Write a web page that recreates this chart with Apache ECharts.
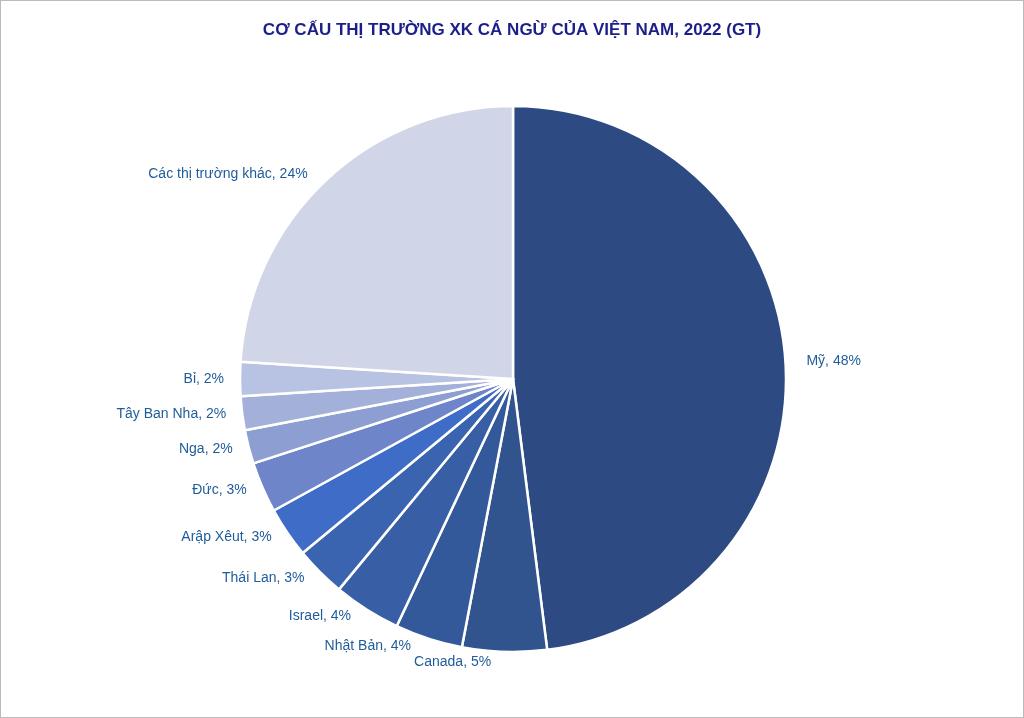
<!DOCTYPE html>
<html><head><meta charset="utf-8">
<script src="https://cdn.jsdelivr.net/npm/echarts@6/dist/echarts.min.js"></script>
<style>html,body{margin:0;padding:0;background:#fff}#c{width:1022px;height:716px;border:1px solid #bbb}</style>
</head><body><div id="c"></div>
<script>
const categories=["Mỹ","Canada","Nhật Bản","Israel","Thái Lan","Arập Xêut","Đức","Nga","Tây Ban Nha","Bỉ","Các thị trường khác"];
const values=[48,5,4,4,3,3,3,2,2,2,24];
const colors=["#2e4a82","#31548f","#34599b","#385fa6","#3a63b0","#3e6cc6","#6e86c9","#8d9ed3","#a3b0da","#b8c2e2","#d0d5e8"];
const chart=echarts.init(document.getElementById('c'));
chart.setOption({
 title:{text:"CƠ CẤU THỊ TRƯỜNG XK CÁ NGỪ CỦA VIỆT NAM, 2022 (GT)",left:'center',top:16,
  textStyle:{color:'#1c1f8a',fontSize:17,fontWeight:'bold',fontFamily:'Liberation Sans, Arial'}},
 animation:false,
 series:[{type:'pie',center:[512,378],radius:[0,273],startAngle:90,clockwise:true,
  data:categories.map((c,i)=>({name:c,value:values[i],itemStyle:{color:colors[i]}})),
  itemStyle:{borderColor:'#fff',borderWidth:2.5},
  label:{show:true,position:'outside',formatter:'{b}, {c}%',color:'#1f5c99',fontSize:14,fontFamily:'Liberation Sans, Arial'},
  labelLine:{show:false,length:8,length2:8},
  emphasis:{disabled:true}}]
});
</script></body></html>
